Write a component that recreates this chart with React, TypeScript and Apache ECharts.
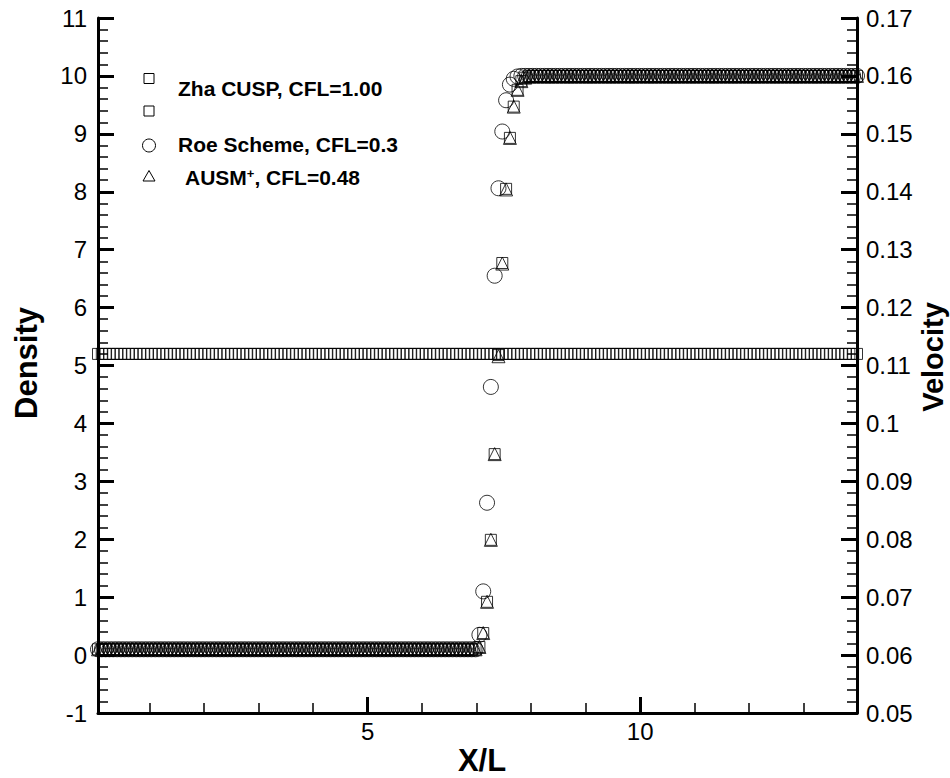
import { useEffect, useRef } from "react";
import * as echarts from "echarts";

// Uniform computational mesh along X/L
const MESH_START = 0.05;
const MESH_STEP = 0.07;
const MESH_POINTS = 200;

// Constant states on either side of the shock
const RHO_PRE = 0.1;
const RHO_POST = 10;
const VELOCITY = 0.112;

// Density through the shock, starting at mesh index SHOCK_START
const SHOCK_START = 100;
const zhaShock = [0.14, 0.38, 0.92, 1.99, 3.47, 5.18, 6.77, 8.05, 8.93, 9.47, 9.76, 9.91, 9.97];
const ausmShock = [0.14, 0.38, 0.92, 1.99, 3.47, 5.16, 6.76, 8.04, 8.93, 9.47, 9.76, 9.91, 9.97];
const roeShock = [0.35, 1.1, 2.63, 4.63, 6.55, 8.06, 9.04, 9.58, 9.85, 9.95, 9.99];

const xMajorTicks = [5, 10];
const xMinorTicks = [1, 2, 3, 4, 6, 7, 8, 9, 11, 12, 13];

const FONT = "'Liberation Sans', Arial, Helvetica, sans-serif";

const meshX = Array.from({ length: MESH_POINTS }, (_, i) => +(MESH_START + i * MESH_STEP).toFixed(3));

function densityProfile(shock: number[]): [number, number][] {
  return meshX.map((x, i) => {
    const k = i - SHOCK_START;
    const rho = k < 0 ? RHO_PRE : k < shock.length ? shock[k] : RHO_POST;
    return [x, rho];
  });
}

const velocityProfile: [number, number][] = meshX.map((x) => [x, VELOCITY]);

const hollow = { color: "rgba(0,0,0,0)", borderColor: "#000", borderWidth: 1 };

export default function App() {
  const ref = useRef<HTMLDivElement>(null);

  useEffect(() => {
    if (!ref.current) return;
    const chart = echarts.init(ref.current, undefined, { renderer: "svg" });

    const tickLabel = { color: "#000", fontFamily: FONT, fontSize: 24 };
    const majorTick = { inside: true, length: 16, lineStyle: { color: "#000", width: 3 } };
    const minorTick = { show: true, splitNumber: 5, length: 10, lineStyle: { color: "#000", width: 1.5 } };
    const spine = { show: true, onZero: false, lineStyle: { color: "#000", width: 3 } };

    chart.setOption({
      animation: false,
      backgroundColor: "#fff",
      grid: { left: 98, top: 18, width: 759, height: 695, containLabel: false },
      xAxis: [
        {
          type: "value",
          min: MESH_START,
          max: 13.98,
          position: "bottom",
          axisLine: spine,
          axisTick: { ...majorTick, customValues: xMajorTicks },
          axisLabel: { ...tickLabel, margin: 6, customValues: xMajorTicks },
          splitLine: { show: false },
        },
        {
          type: "value",
          min: MESH_START,
          max: 13.98,
          position: "bottom",
          axisLine: { show: false, onZero: false },
          axisTick: { inside: true, length: 10, lineStyle: { color: "#000", width: 1.5 }, customValues: xMinorTicks },
          axisLabel: { show: false },
          splitLine: { show: false },
        },
      ],
      yAxis: [
        {
          type: "value",
          min: -1,
          max: 11,
          interval: 1,
          position: "left",
          axisLine: spine,
          axisTick: majorTick,
          minorTick,
          axisLabel: { ...tickLabel, margin: 11 },
          splitLine: { show: false },
          minorSplitLine: { show: false },
        },
        {
          type: "value",
          min: 0.05,
          max: 0.17,
          interval: 0.01,
          position: "right",
          axisLine: spine,
          axisTick: majorTick,
          minorTick,
          axisLabel: {
            ...tickLabel,
            margin: 9,
            formatter: (v: number) => String(Math.round(v * 100) / 100),
          },
          splitLine: { show: false },
          minorSplitLine: { show: false },
        },
      ],
      series: [
        {
          name: "Zha CUSP, CFL=1.00",
          type: "scatter",
          xAxisIndex: 0,
          yAxisIndex: 0,
          symbol: "rect",
          symbolSize: 11,
          itemStyle: hollow,
          data: densityProfile(zhaShock),
        },
        {
          name: "Velocity",
          type: "scatter",
          xAxisIndex: 0,
          yAxisIndex: 1,
          symbol: "rect",
          symbolSize: 11,
          itemStyle: hollow,
          data: velocityProfile,
        },
        {
          name: "Roe Scheme, CFL=0.3",
          type: "scatter",
          xAxisIndex: 0,
          yAxisIndex: 0,
          symbol: "circle",
          symbolSize: 15,
          itemStyle: hollow,
          data: densityProfile(roeShock),
        },
        {
          name: "AUSM+, CFL=0.48",
          type: "scatter",
          xAxisIndex: 0,
          yAxisIndex: 0,
          symbol: "triangle",
          symbolSize: 13,
          itemStyle: hollow,
          data: densityProfile(ausmShock),
        },
      ],
      graphic: [
        // legend symbols
        { type: "rect", shape: { x: 144, y: 73.5, width: 10, height: 10 }, style: { fill: "none", stroke: "#000", lineWidth: 1 } },
        { type: "rect", shape: { x: 144, y: 106, width: 10, height: 10 }, style: { fill: "none", stroke: "#000", lineWidth: 1 } },
        { type: "circle", shape: { cx: 149, cy: 145.5, r: 6.5 }, style: { fill: "none", stroke: "#000", lineWidth: 1 } },
        {
          type: "polygon",
          shape: { points: [[149, 170.5], [155, 181], [143, 181]] },
          style: { fill: "none", stroke: "#000", lineWidth: 1 },
        },
        // legend labels
        {
          type: "text",
          x: 178,
          y: 88,
          style: { text: "Zha CUSP, CFL=1.00", fontFamily: FONT, fontSize: 21, fontWeight: "bold", fill: "#000", verticalAlign: "middle" },
        },
        {
          type: "text",
          x: 178,
          y: 144,
          style: { text: "Roe Scheme, CFL=0.3", fontFamily: FONT, fontSize: 21, fontWeight: "bold", fill: "#000", verticalAlign: "middle" },
        },
        {
          type: "text",
          x: 185,
          y: 177,
          style: {
            text: "{a|AUSM}{s|+}{a|, CFL=0.48}",
            verticalAlign: "middle",
            rich: {
              a: { fontFamily: FONT, fontSize: 21, fontWeight: "bold", fill: "#000" },
              s: { fontFamily: FONT, fontSize: 13, fontWeight: "bold", fill: "#000", verticalAlign: "top" },
            },
          },
        },
        // axis titles
        {
          type: "text",
          x: 26,
          y: 363,
          rotation: Math.PI / 2,
          style: { text: "Density", fontFamily: FONT, fontSize: 31, fontWeight: "bold", fill: "#000", align: "center", verticalAlign: "middle" },
        },
        {
          type: "text",
          x: 933,
          y: 357,
          rotation: Math.PI / 2,
          style: { text: "Velocity", fontFamily: FONT, fontSize: 29, fontWeight: "bold", fill: "#000", align: "center", verticalAlign: "middle" },
        },
        {
          type: "text",
          x: 482,
          y: 760,
          style: { text: "X/L", fontFamily: FONT, fontSize: 31, fontWeight: "bold", fill: "#000", align: "center", verticalAlign: "middle" },
        },
      ],
    });

    return () => chart.dispose();
  }, []);

  return (
    <div
      ref={ref}
      style={{ position: "fixed", left: 0, top: 0, width: 950, height: 778, background: "#fff" }}
    />
  );
}
